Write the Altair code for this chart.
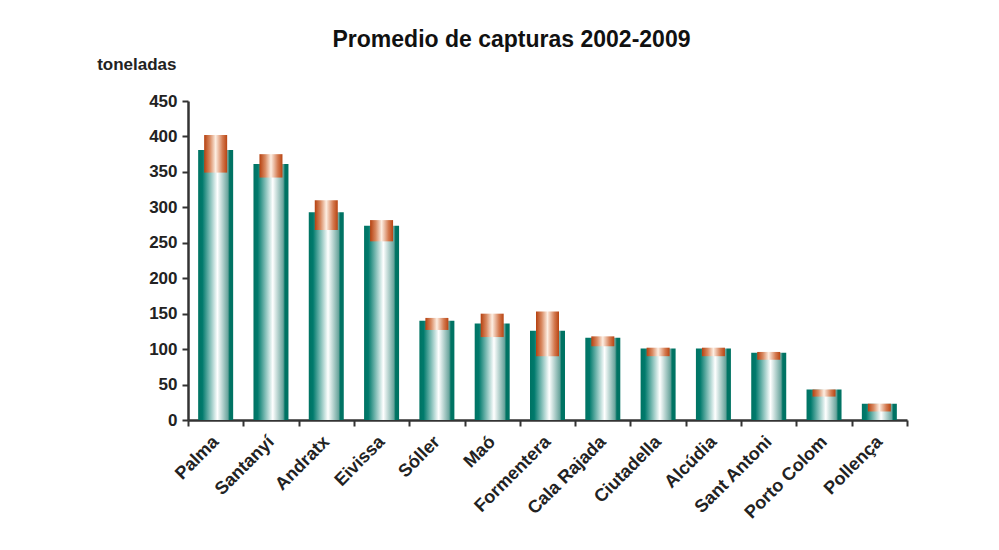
import altair as alt
import pandas as pd

cities = ["Palma", "Santanyí", "Andratx", "Eivissa", "Sóller", "Maó", "Formentera",
          "Cala Rajada", "Ciutadella", "Alcúdia", "Sant Antoni", "Porto Colom", "Pollença"]
promedio = [381, 361, 293, 274, 140, 136, 126, 116, 101, 101, 95, 43, 23]
rango_min = [349, 342, 268, 252, 127, 117, 90, 104, 90, 90, 85, 33, 12]
rango_max = [402, 375, 310, 282, 144, 150, 153, 118, 102, 102, 96, 43, 23]
y_ticks = [0, 50, 100, 150, 200, 250, 300, 350, 400, 450]

df = pd.DataFrame({"city": cities, "prom": promedio, "lo": rango_min, "hi": rango_max})

green = alt.Gradient(
    gradient="linear", x1=0, x2=1, y1=0, y2=0,
    stops=[
        alt.GradientStop(color="#007363", offset=0),
        alt.GradientStop(color="#007a6c", offset=0.12),
        alt.GradientStop(color="#ffffff", offset=0.55),
        alt.GradientStop(color="#6aa59d", offset=0.85),
        alt.GradientStop(color="#007363", offset=0.9),
        alt.GradientStop(color="#007363", offset=1),
    ],
)
orange = alt.Gradient(
    gradient="linear", x1=0, x2=1, y1=0, y2=0,
    stops=[
        alt.GradientStop(color="#b5400f", offset=0),
        alt.GradientStop(color="#d98a62", offset=0.25),
        alt.GradientStop(color="#fdeee2", offset=0.5),
        alt.GradientStop(color="#d47a50", offset=0.8),
        alt.GradientStop(color="#b84412", offset=1),
    ],
)

x_axis = alt.Axis(labelAngle=-45, labelAlign="right", labelBaseline="middle",
                  labelFontSize=18, labelFontWeight="bold",
                  labelColor="#222222", labelPadding=13, tickBand="extent",
                  tickSize=6, tickWidth=2, tickColor="#333333", labelOverlap=False,
                  domainColor="#333333", domainWidth=2.5)
x_scale = alt.Scale(paddingInner=0, paddingOuter=0)

y_axis = alt.Axis(values=y_ticks, labelOverlap=False, tickCount=10,
                  title="toneladas", titleAngle=0, titleAlign="right",
                  titleX=-12, titleY=-28, titleFontSize=17, titleFontWeight="bold",
                  titleColor="#222222",
                  labelFontSize=17, labelFontWeight="bold", labelColor="#222222",
                  labelPadding=5, tickSize=6, tickWidth=2, tickColor="#333333",
                  domainColor="#333333", domainWidth=2.5, grid=False)
y_scale = alt.Scale(domain=[0, 450], nice=False)

bars = alt.Chart(df).mark_bar(color=green, size=35).encode(
    x=alt.X("city:N", sort=None, title=None, scale=x_scale, axis=x_axis),
    y=alt.Y("prom:Q", scale=y_scale, axis=y_axis, title="toneladas"),
)

ranges = alt.Chart(df).mark_bar(color=orange, size=23).encode(
    x=alt.X("city:N", sort=None, title=None, scale=x_scale, axis=x_axis),
    y=alt.Y("lo:Q", scale=y_scale, axis=y_axis, title="toneladas"),
    y2="hi:Q",
)

chart = (bars + ranges).properties(
    width=719, height=319,
    title=alt.TitleParams("Promedio de capturas 2002-2009", fontSize=23,
                          fontWeight="bold", color="#111111", dx=-36, offset=3),
    autosize=alt.AutoSizeParams(type="none"),
    padding={"left": 180, "top": 93, "right": 80, "bottom": 130},
    background="white",
).configure(font="Liberation Sans").configure_view(stroke=None)

chart.save("out.html", embed_options={"renderer": "svg", "actions": False})
